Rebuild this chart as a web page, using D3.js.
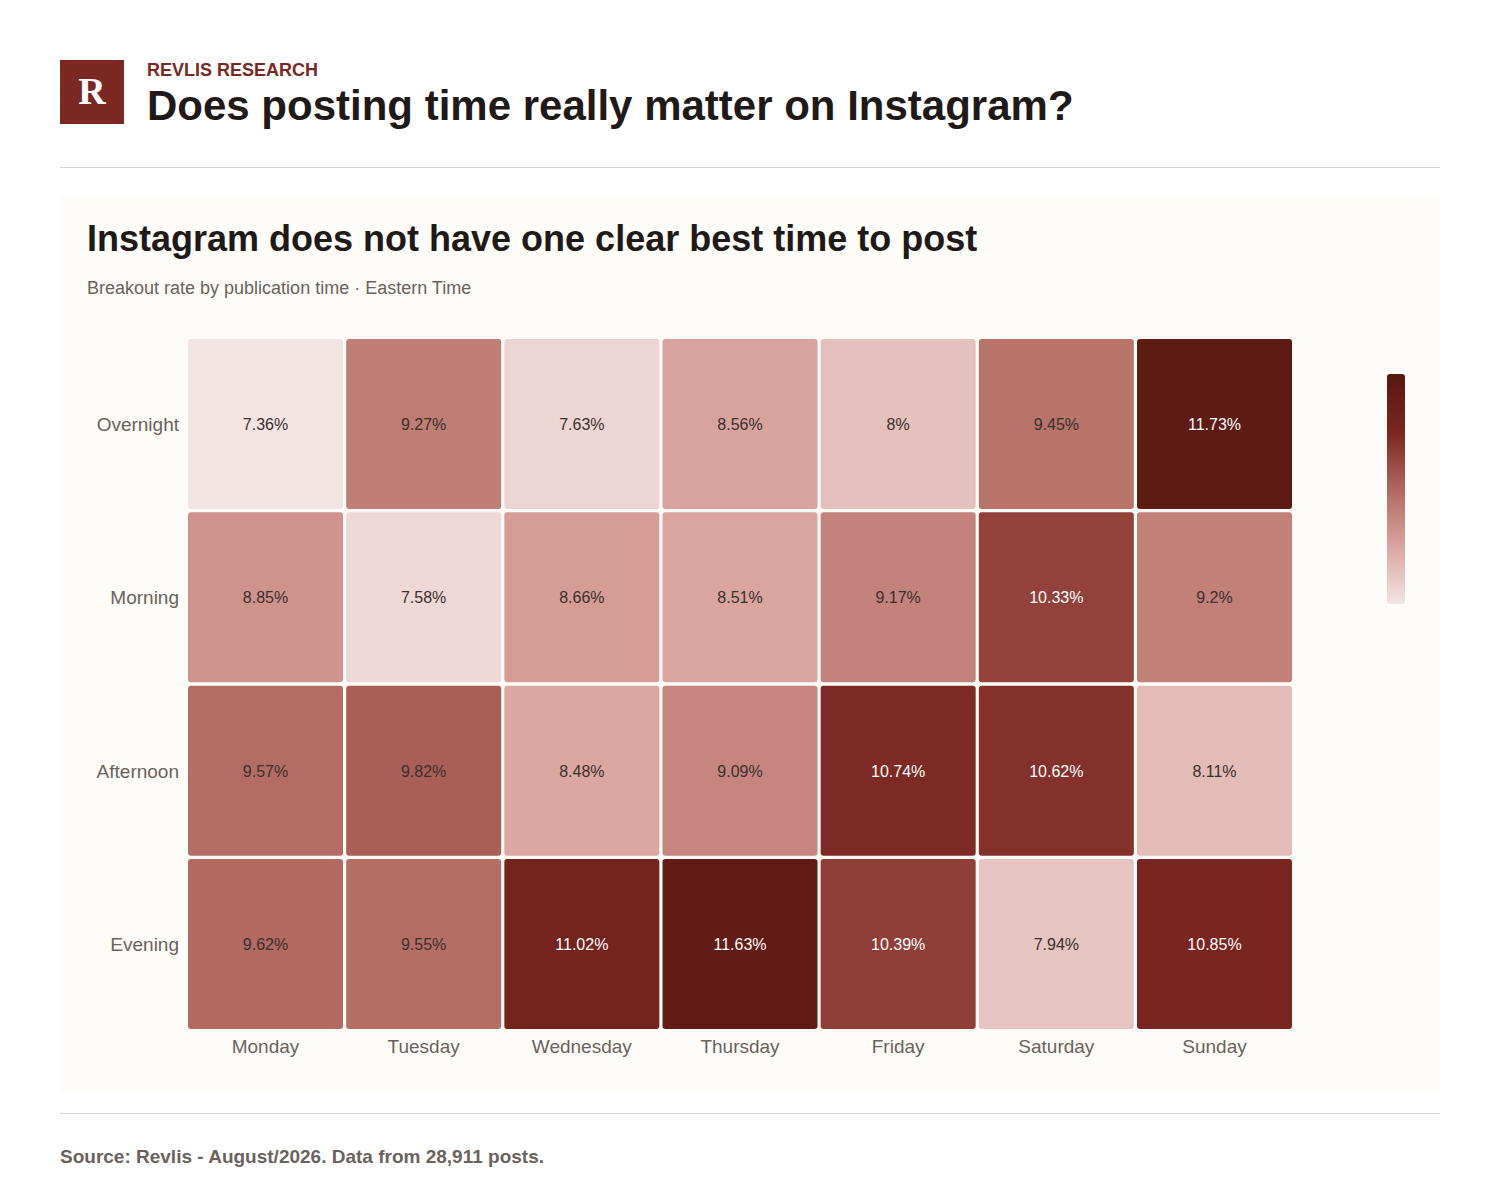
<!DOCTYPE html>
<html><head><meta charset="utf-8">
<script src="https://cdn.jsdelivr.net/npm/d3@7"></script>
<style>body{margin:0;background:#fff;font-family:"Liberation Sans",Arial,sans-serif;}</style>
</head><body><svg id="c" width="1500" height="1200"></svg>
<script>
const days=["Monday","Tuesday","Wednesday","Thursday","Friday","Saturday","Sunday"];
const periods=["Overnight","Morning","Afternoon","Evening"];
const overnight=[7.36,9.27,7.63,8.56,8,9.45,11.73];
const morning=[8.85,7.58,8.66,8.51,9.17,10.33,9.2];
const afternoon=[9.57,9.82,8.48,9.09,10.74,10.62,8.11];
const evening=[9.62,9.55,11.02,11.63,10.39,7.94,10.85];
const rows=[overnight,morning,afternoon,evening];
const cells=[];rows.forEach((r,i)=>r.forEach((v,j)=>cells.push({p:periods[i],d:days[j],v})));
const svg=d3.select("#c");
svg.append("rect").attr("x",60).attr("y",60).attr("width",64).attr("height",64).attr("fill","#7b2722");
svg.append("text").attr("x",92).attr("y",104).attr("text-anchor","middle").attr("fill","#fff").attr("font-family","Liberation Serif,serif").attr("font-weight","bold").attr("font-size",38).text("R");
svg.append("text").attr("x",147).attr("y",76).attr("fill","#7b2722").attr("font-weight","bold").attr("font-size",18).text("REVLIS RESEARCH");
svg.append("text").attr("x",147).attr("y",120).attr("fill","#1f1a17").attr("font-weight","bold").attr("font-size",42).text("Does posting time really matter on Instagram?");
svg.append("line").attr("x1",60).attr("x2",1440).attr("y1",167.5).attr("y2",167.5).attr("stroke","#d9d6d0");
svg.append("rect").attr("x",60).attr("y",197).attr("width",1380).attr("height",895).attr("fill","#fdfcf9");
svg.append("text").attr("x",87).attr("y",251).attr("fill","#1f1a17").attr("font-weight","bold").attr("font-size",36).text("Instagram does not have one clear best time to post");
svg.append("text").attr("x",87).attr("y",294).attr("fill","#6b625c").attr("font-size",18).text("Breakout rate by publication time · Eastern Time");
const x=d3.scaleBand().domain(days).range([188,1292]).paddingInner(0.02);
const y=d3.scaleBand().domain(periods).range([339,1029]).paddingInner(0.02);
const ext=d3.extent(cells,d=>d.v);
const cols=["#f2e4e3","#dba59f","#b0675f","#7a251f","#561811"];
const color=d3.scaleLinear().domain(d3.range(5).map(i=>ext[0]+(ext[1]-ext[0])*i/4*1.06)).range(cols).clamp(true);
const g=svg.append("g");
g.selectAll("rect").data(cells).join("rect").attr("x",d=>x(d.d)).attr("y",d=>y(d.p)).attr("width",x.bandwidth()).attr("height",y.bandwidth()).attr("rx",3).attr("fill",d=>color(d.v));
g.selectAll("text").data(cells).join("text").attr("x",d=>x(d.d)+x.bandwidth()/2).attr("y",d=>y(d.p)+y.bandwidth()/2+6).attr("text-anchor","middle").attr("font-size",16).attr("fill",d=>d.v>=10.3?"#fff":"#3a302c").text(d=>d.v+"%");
svg.append("g").selectAll("text").data(periods).join("text").attr("x",179).attr("y",d=>y(d)+y.bandwidth()/2+7).attr("text-anchor","end").attr("font-size",19).attr("fill","#6b625c").text(d=>d);
svg.append("g").selectAll("text").data(days).join("text").attr("x",d=>x(d)+x.bandwidth()/2).attr("y",1053).attr("text-anchor","middle").attr("font-size",19).attr("fill","#6b625c").text(d=>d);
const gr=svg.append("defs").append("linearGradient").attr("id","lg").attr("x1",0).attr("x2",0).attr("y1",1).attr("y2",0);
cols.forEach((c,i)=>gr.append("stop").attr("offset",i/4).attr("stop-color",c));
svg.append("rect").attr("x",1387).attr("y",374).attr("width",18).attr("height",230).attr("rx",3).attr("fill","url(#lg)");
svg.append("line").attr("x1",60).attr("x2",1440).attr("y1",1113.5).attr("y2",1113.5).attr("stroke","#d9d6d0");
svg.append("text").attr("x",60).attr("y",1163).attr("fill","#6b625c").attr("font-weight","bold").attr("font-size",19).text("Source: Revlis - August/2026. Data from 28,911 posts.");
</script></body></html>
